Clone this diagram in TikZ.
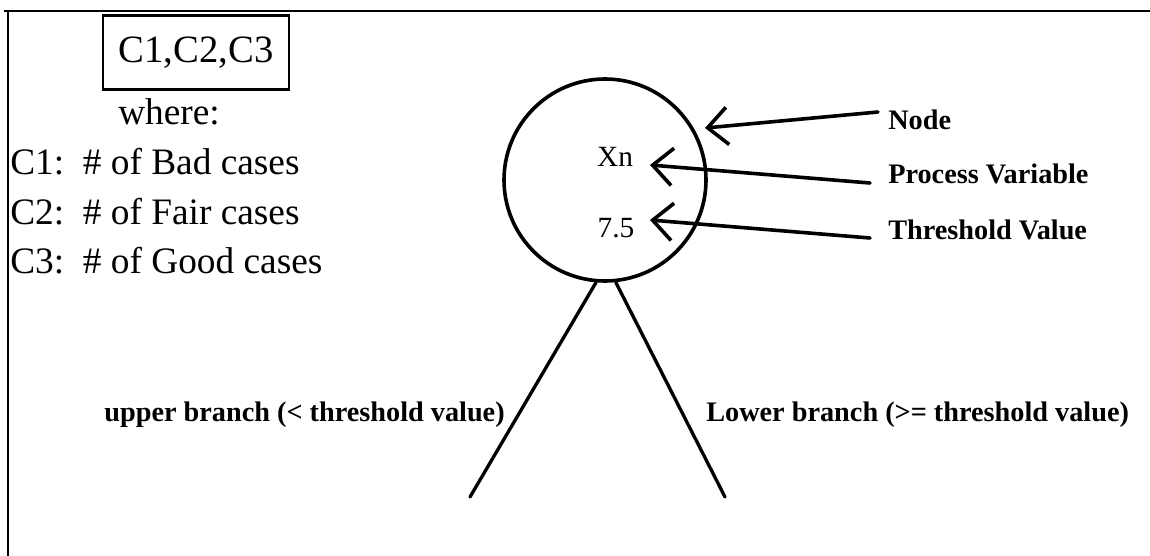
\documentclass[tikz,border=0pt]{standalone}
\usepackage{fontspec}
\setmainfont{Liberation Serif}
\usetikzlibrary{arrows.meta}
\begin{document}
\begin{tikzpicture}[x=0.75pt,y=-0.75pt,
  big/.style={font=\fontsize{28}{32}\selectfont, inner sep=0pt, anchor=base west},
  small/.style={font=\fontsize{21.2}{24}\selectfont\bfseries, inner sep=0pt},
  inner/.style={font=\fontsize{22}{26}\selectfont, inner sep=0pt},
  frameline/.style={line width=2.2pt},
  ptr/.style={line width=2.7pt, line cap=round, -{Straight Barb[length=15pt,width=28pt]}},
  branch/.style={line width=2.5pt, line cap=round}]
\useasboundingbox (0,0) rectangle (1150,556);
% frame (top and left edges)
\draw[frameline] (4,11) -- (1150,11);
\draw[frameline] (8,11) -- (8,556);
% legend
\node[draw, line width=2.2pt, minimum width=139.5pt, minimum height=56pt, inner sep=0pt,
      font=\fontsize{29}{33}\selectfont] (key) at (196,52.5) {C1,C2,C3};
\node[big] (where) at (118,125) {where:};
\node[big] (c1) at (10,175) {C1:\ \ \# of Bad cases};
\node[big] (c2) at (10,224) {C2:\ \ \# of Fair cases};
\node[big] (c3) at (10,273) {C3:\ \ \# of Good cases};
% tree node
\node[circle, draw, line width=2.7pt, minimum size=151.5pt, inner sep=0pt] (nd) at (605,180) {};
\node[inner, anchor=base] (xn) at (615,167) {Xn};
\node[inner, anchor=base] (thr) at (616,238) {7.5};
% explanation labels
\node[small, anchor=base west] (lnode) at (888,130) {Node};
\node[small, anchor=base west] (lpv) at (888,184) {Process Variable};
\node[small, anchor=base west] (ltv) at (888,239) {Threshold Value};
\coordinate (tnode) at (705,128);
\coordinate (tpv) at (650,165);
\coordinate (ttv) at (650,220);
\coordinate (enode) at (878,112);
\coordinate (epv) at (870,183);
\coordinate (etv) at (870,238);
\draw[ptr] (enode) -- (tnode);
\draw[ptr] (epv) -- (tpv);
\draw[ptr] (etv) -- (ttv);
% branches
\coordinate (lb) at (470,497);
\coordinate (rb) at (725,497);
\draw[branch] (nd.-95) -- (lb);
\draw[branch] (nd.-84) -- (rb);
\node[small, anchor=base east] (up) at (505,421) {upper branch (< threshold value)};
\node[small, anchor=base west] (low) at (706,421) {Lower branch (>= threshold value)};
\end{tikzpicture}
\end{document}
